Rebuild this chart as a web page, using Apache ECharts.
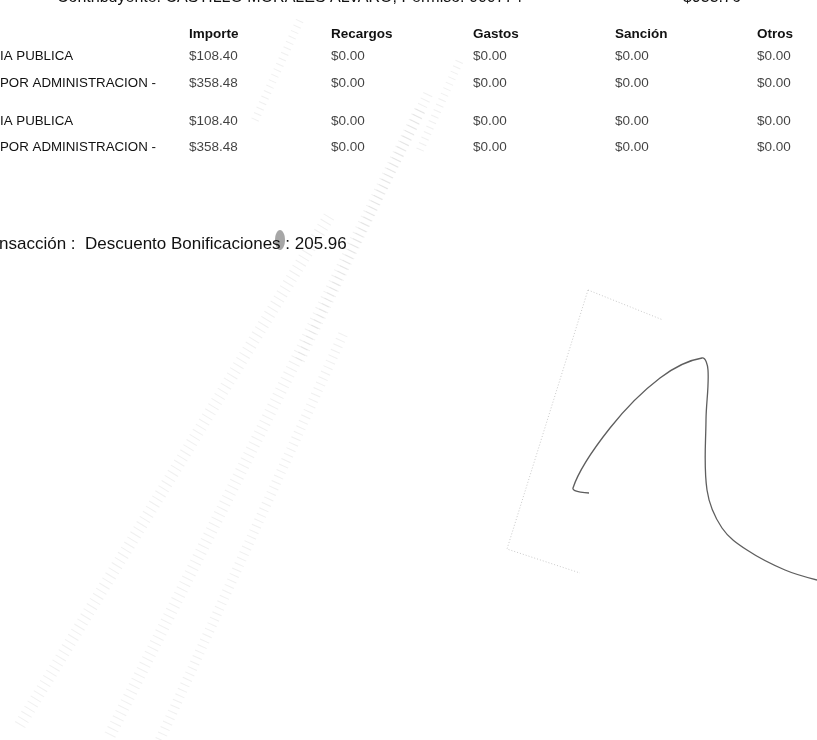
<!DOCTYPE html>
<html>
<head>
<meta charset="utf-8">
<script src="https://cdn.jsdelivr.net/npm/echarts@6/dist/echarts.min.js"></script>
<style>
html, body { margin: 0; padding: 0; background: #fff; }
#main { width: 817px; height: 740px; }
</style>
</head>
<body>
<div id="main"></div>
<script>
// encabezado (cortado en el escaneo)
var sHeader = 'Contribuyente: CASTILLO MORALES ALVARO, Permiso: 000774';
var sHeaderTotal = '$933.76';

// columnas y renglones del desglose
var aColumns = ['Importe', 'Recargos', 'Gastos', 'Sanción', 'Otros'];
var aRowsA = ['IA PUBLICA', 'POR ADMINISTRACION -'];
var aRowsB = ['IA PUBLICA', 'POR ADMINISTRACION -'];
var aValuesA = [
    [108.40, 0, 0, 0, 0],
    [358.48, 0, 0, 0, 0]
];
var aValuesB = [
    [108.40, 0, 0, 0, 0],
    [358.48, 0, 0, 0, 0]
];

var sDiscountLabel = 'nsacción :  Descuento Bonificaciones :';
var fDiscount = 205.96;

var sFont = '"Liberation Sans", Arial, sans-serif';
var sInk = '#111111';

function BuildCells(aValues) {
    var aData = [];
    for (var r = 0; r < aValues.length; r++) {
        for (var c = 0; c < aValues[r].length; c++) {
            aData.push([c, r, aValues[r][c]]);
        }
    }
    return aData
}

function Money(v) {
    return '$' + v.toFixed(2);
}

function XAxis(iGrid, bShow) {
    return {
        gridIndex: iGrid,
        type: 'category',
        data: aColumns,
        boundaryGap: false,
        position: 'top',
        axisLine: {show: false},
        axisTick: {show: false},
        splitLine: {show: false},
        axisLabel: {
            show: bShow,
            interval: 0,
            align: 'left',
            verticalAlign: 'middle',
            margin: 8,
            fontFamily: sFont,
            fontSize: 13.5,
            fontWeight: 'bold',
            color: sInk
        }
    }
}

function YAxis(iGrid, aRows) {
    return {
        gridIndex: iGrid,
        type: 'category',
        data: aRows,
        inverse: true,
        axisLine: {show: false},
        axisTick: {show: false},
        splitLine: {show: false},
        axisLabel: {
            interval: 0,
            align: 'left',
            margin: 189,
            fontFamily: sFont,
            fontSize: 13.3,
            color: sInk
        }
    }
}

function CellSeries(iGrid, aValues) {
    return {
        type: 'scatter',
        xAxisIndex: iGrid,
        yAxisIndex: iGrid,
        symbolSize: 0,
        silent: true,
        data: BuildCells(aValues),
        label: {
            show: true,
            position: 'right',
            distance: 0,
            fontFamily: sFont,
            fontSize: 13.5,
            color: sInk,
            formatter: function (p) { return Money(p.value[2]); }
        }
    }
}

// sellos y firma, solo decorativos
var sStamp = 'rgba(90,90,90,0.09)';
var aDecor = [
    {type: 'line', shape: {x1: 20, y1: 725, x2: 330, y2: 215}, style: {stroke: sStamp, lineWidth: 12, lineDash: [1, 5]}},
    {type: 'line', shape: {x1: 110, y1: 735, x2: 420, y2: 110}, style: {stroke: sStamp, lineWidth: 12, lineDash: [1, 5]}},
    {type: 'line', shape: {x1: 160, y1: 740, x2: 345, y2: 330}, style: {stroke: sStamp, lineWidth: 10, lineDash: [1, 5]}},
    {type: 'line', shape: {x1: 300, y1: 360, x2: 430, y2: 90}, style: {stroke: sStamp, lineWidth: 10, lineDash: [1, 5]}},
    {type: 'line', shape: {x1: 255, y1: 120, x2: 300, y2: 20}, style: {stroke: sStamp, lineWidth: 8, lineDash: [1, 5]}},
    {type: 'line', shape: {x1: 420, y1: 150, x2: 460, y2: 60}, style: {stroke: sStamp, lineWidth: 8, lineDash: [1, 5]}},
    {type: 'ellipse', shape: {cx: 280, cy: 240, rx: 5, ry: 10}, style: {fill: 'rgba(60,60,60,0.45)'}},
    {type: 'polyline', shape: {points: [[588, 290], [663, 320]]}, style: {stroke: 'rgba(80,80,80,0.3)', lineWidth: 1, lineDash: [1, 2]}},
    {type: 'polyline', shape: {points: [[588, 290], [507, 549], [580, 573]]}, style: {stroke: 'rgba(80,80,80,0.3)', lineWidth: 1, lineDash: [1, 2]}},
    {type: 'polyline', shape: {points: [[589, 493], [573, 488], [610, 428], [660, 378], [702, 358], [708, 370], [706, 420], [707, 490], [722, 528], [747, 550], [785, 570], [817, 580]], smooth: 0.35}, style: {stroke: 'rgba(40,40,40,0.75)', lineWidth: 1.3, fill: null}}
];

function GetOption() {
    return {
        backgroundColor: '#ffffff',
        animation: false,
        title: [
            {text: sHeader, left: 57, top: -10, padding: 0, textStyle: {fontFamily: sFont, fontSize: 16, fontWeight: 'normal', color: sInk}},
            {text: sHeaderTotal, left: 683, top: -10, padding: 0, textStyle: {fontFamily: sFont, fontSize: 16, fontWeight: 'normal', color: sInk}},
            {text: sDiscountLabel + ' ' + fDiscount.toFixed(2), left: -1, top: 236, padding: 0, textStyle: {fontFamily: sFont, fontSize: 17, fontWeight: 'normal', color: sInk}}
        ],
        grid: [
            {left: 189, right: 60, top: 42.5, height: 54, outerBoundsMode: 'none'},
            {left: 189, right: 60, top: 108, height: 52, outerBoundsMode: 'none'}
        ],
        xAxis: [XAxis(0, true), XAxis(1, false)],
        yAxis: [YAxis(0, aRowsA), YAxis(1, aRowsB)],
        series: [CellSeries(0, aValuesA), CellSeries(1, aValuesB)],
        graphic: aDecor
    }
}

var oChart = echarts.init(document.getElementById('main'), null, {renderer: 'canvas'});
oChart.setOption(GetOption());
</script>
</body>
</html>
